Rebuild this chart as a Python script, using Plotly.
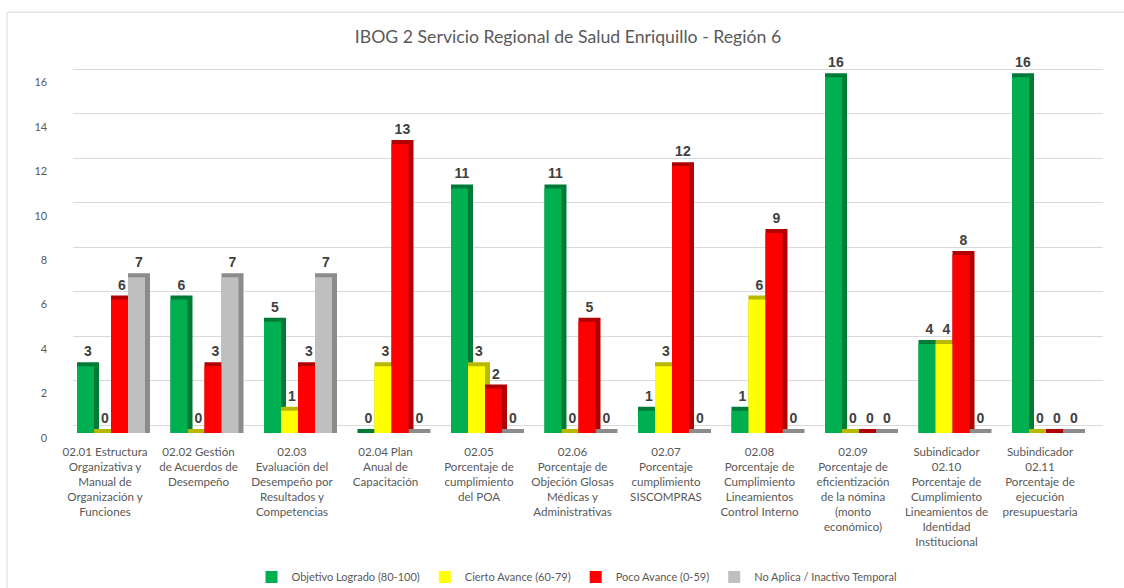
import plotly.graph_objects as go

categories = [
    "02.01 Estructura<br>Organizativa y<br>Manual de<br>Organización y<br>Funciones",
    "02.02 Gestión<br>de Acuerdos de<br>Desempeño",
    "02.03<br>Evaluación del<br>Desempeño por<br>Resultados y<br>Competencias",
    "02.04 Plan<br>Anual de<br>Capacitación",
    "02.05<br>Porcentaje de<br>cumplimiento<br>del POA",
    "02.06<br>Porcentaje de<br>Objeción Glosas<br>Médicas y<br>Administrativas",
    "02.07<br>Porcentaje<br>cumplimiento<br>SISCOMPRAS",
    "02.08<br>Porcentaje de<br>Cumplimiento<br>Lineamientos<br>Control Interno",
    "02.09<br>Porcentaje de<br>eficientización<br>de la nómina<br>(monto<br>económico)",
    "Subindicador<br>02.10<br>Porcentaje de<br>Cumplimiento<br>Lineamientos de<br>Identidad<br>Institucional",
    "Subindicador<br>02.11<br>Porcentaje de<br>ejecución<br>presupuestaria",
]

series_names = [
    "Objetivo Logrado (80-100)",
    "Cierto Avance (60-79)",
    "Poco Avance (0-59)",
    "No Aplica / Inactivo Temporal",
]
objetivo_logrado = [3, 6, 5, 0, 11, 11, 1, 1, 16, 4, 16]
cierto_avance = [0, 0, 1, 3, 3, 0, 3, 6, 0, 4, 0]
poco_avance = [6, 3, 3, 13, 2, 5, 12, 9, 0, 8, 0]
no_aplica = [7, 7, 7, 0, 0, 0, 0, 0, 0, 0, 0]
series_values = [objetivo_logrado, cierto_avance, poco_avance, no_aplica]

y_ticks = [0, 2, 4, 6, 8, 10, 12, 14, 16]

front_colors = ["#00B050", "#FFFF00", "#FF0000", "#BFBFBF"]
side_colors = ["#007A37", "#B8B800", "#B00000", "#8C8C8C"]

FONT = "Lato"
TXT = "#595959"

cat_px = 93.5
bar_w = 17 / cat_px
depth_w = 22 / cat_px
start_off = -28 / cat_px
depth_y = 0.18

fig = go.Figure()

# background subplot carrying only the back-wall gridlines
fig.add_trace(go.Scatter(x=[0.5], y=[0], mode="markers", marker=dict(size=0.1, opacity=0),
                         showlegend=False, hoverinfo="skip", xaxis="x", yaxis="y"))

# side/top "depth" faces (drawn first)
for i, (name, vals) in enumerate(zip(series_names, series_values)):
    fig.add_trace(go.Bar(
        x=categories, y=[v + depth_y for v in vals],
        offset=start_off + i * bar_w, width=depth_w,
        marker=dict(color=side_colors[i], line=dict(width=0)),
        text=[str(v) for v in vals], textposition="outside",
        textfont=dict(family="Liberation Sans", size=14, color="#404040", weight="bold"),
        constraintext="none", cliponaxis=False,
        showlegend=False, hoverinfo="skip", xaxis="x2", yaxis="y2",
    ))

# front faces
for i, (name, vals) in enumerate(zip(series_names, series_values)):
    fig.add_trace(go.Bar(
        x=categories, y=vals, name=name,
        offset=start_off + i * bar_w, width=bar_w,
        marker=dict(color=front_colors[i], line=dict(width=0)),
        xaxis="x2", yaxis="y2",
    ))

W, H = 1124, 588
L, R = 58, 21
T = 54.75
B = 155
plot_w = W - L - R
plot_h = H - T - B

fig.update_layout(
    width=W, height=H,
    margin=dict(l=L, r=R, t=T, b=B, autoexpand=False),
    paper_bgcolor="white",
    plot_bgcolor="rgba(0,0,0,0)",
    barmode="overlay",
    font=dict(family=FONT, color=TXT),
    title=dict(text="IBOG 2 Servicio Regional de Salud Enriquillo - Región 6",
               font=dict(family=FONT, size=17.7, color=TXT),
               x=(568 - L) / plot_w, xref="paper", xanchor="center",
               y=1 - 37 / H, yref="container", yanchor="middle"),
    xaxis=dict(domain=[(73 - L) / plot_w, 1.0], range=[0, 1], visible=False, fixedrange=True),
    yaxis=dict(domain=[0, 1], range=[-0.36, 17 - 0.36], tickvals=y_ticks,
               showgrid=True, gridcolor="#D9D9D9", gridwidth=1,
               showticklabels=False, zeroline=False, showline=False, ticks=""),
    xaxis2=dict(domain=[(58.25 - L) / plot_w, (1086.75 - L) / plot_w], anchor="y2",
                type="category", showgrid=False, showline=False, zeroline=False, ticks="",
                tickfont=dict(family=FONT, size=11.6, color=TXT), tickangle=0,
                ticklabelstandoff=10),
    yaxis2=dict(domain=[0, 1], anchor="x2", range=[0, 17], tickvals=y_ticks,
                showgrid=False, zeroline=False, showline=False, ticks="",
                tickfont=dict(family=FONT, size=11, color=TXT),
                ticklabelstandoff=10, ticklabelshift=5),
    legend=dict(orientation="h", x=(577 - L) / plot_w, xanchor="center",
                y=-(577 - (H - B)) / plot_h, yanchor="middle",
                font=dict(family=FONT, size=11, color=TXT),
                itemwidth=30, traceorder="normal", bgcolor="rgba(0,0,0,0)"),
    shapes=[
        dict(type="line", xref="paper", yref="paper",
             x0=(7 - L) / plot_w, x1=(W - L) / plot_w,
             y0=(H - B - 12) / plot_h, y1=(H - B - 12) / plot_h,
             line=dict(color="#D9D9D9", width=1), layer="below"),
        dict(type="line", xref="paper", yref="paper",
             x0=(7 - L) / plot_w, x1=(7 - L) / plot_w,
             y0=(H - B - 12) / plot_h, y1=(H - B - H) / plot_h,
             line=dict(color="#D9D9D9", width=1), layer="below"),
    ],
)

fig.write_html("out.html", config={"displayModeBar": False},
               post_script="document.documentElement.style.overflow='hidden';document.body.style.margin='0';document.body.style.overflow='hidden';")
